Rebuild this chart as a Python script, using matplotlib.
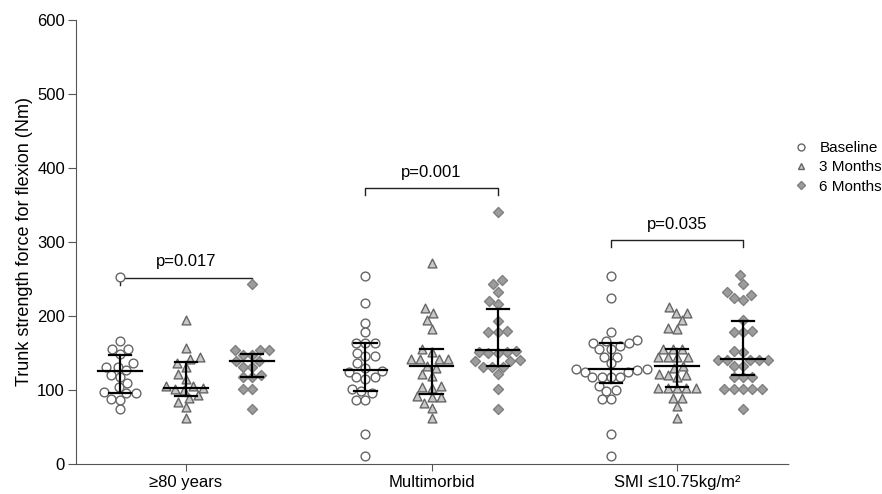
import numpy as np
import matplotlib
matplotlib.use("Agg")
import matplotlib.pyplot as plt
from matplotlib.lines import Line2D

plt.rcParams['font.family'] = ['Liberation Sans', 'DejaVu Sans']

# --- data ---
groups = ["\u226580 years", "Multimorbid", "SMI \u226410.75kg/m\u00b2"]
series = ["Baseline", "3 Months", "6 Months"]

g1_base = [253, 166, 155, 155, 148, 136, 131, 131, 127, 120, 118, 110, 104, 97, 96, 96, 88, 87, 74]
g1_3m = [194, 157, 144, 142, 136, 131, 121, 115, 105, 105, 103, 102, 100, 93, 89, 84, 77, 62]
g1_6m = [243, 154, 154, 154, 147, 147, 139, 139, 131, 131, 120, 118, 117, 102, 102, 75]

g2_base = [254, 218, 191, 178, 164, 164, 163, 150, 146, 146, 136, 130, 126, 124, 118, 117, 115,
           101, 98, 96, 87, 87, 40, 11]
g2_3m = [271, 211, 204, 194, 183, 155, 152, 142, 142, 142, 142, 133, 130, 121, 119, 106, 104, 103,
         92, 90, 90, 83, 76, 62]
g2_6m = [341, 248, 243, 232, 220, 216, 193, 180, 178, 178, 153, 152, 151, 150, 150, 140, 139, 139,
         131, 131, 131, 121, 101, 75]

g3_base = [254, 224, 178, 168, 166, 164, 163, 160, 155, 155, 145, 144, 136, 128, 128, 127, 125, 124,
           118, 118, 118, 118, 106, 100, 99, 88, 88, 40, 11]
g3_3m = [212, 204, 204, 194, 184, 183, 155, 155, 155, 144, 144, 144, 144, 133, 130, 121, 120, 120,
         118, 103, 103, 103, 103, 103, 89, 89, 78, 62]
g3_6m = [255, 243, 232, 228, 225, 221, 194, 180, 178, 178, 153, 152, 141, 141, 141, 141, 141, 132,
         132, 118, 118, 118, 102, 101, 101, 101, 101, 75]

# median, lower quartile, upper quartile per group / series
medians = [[126, 103, 139], [127, 133, 154], [129, 133, 142]]
q1 = [[96, 92, 118], [98, 95, 133], [109, 104, 120]]
q3 = [[147, 138, 148], [163, 155, 210], [163, 156, 193]]

p_labels = ["p=0.017", "p=0.001", "p=0.035"]
p_heights = [252, 373, 303]

data = [[g1_base, g1_3m, g1_6m], [g2_base, g2_3m, g2_6m], [g3_base, g3_3m, g3_6m]]

# --- styling ---
markers = ["o", "^", "D"]
faces = ["white", "#c8c8c8", "#9c9c9c"]
edges = ["#666666", "#666666", "#808080"]
msizes = [40, 40, 26]

fig = plt.figure(figsize=(8.82, 4.94), dpi=100)
ax_rect = [76 / 882, 30 / 494, 713 / 882, 444 / 494]
ax = fig.add_axes(ax_rect)

xmin, xmax = 0.552, 3.456
ax.set_xlim(xmin, xmax)
ax.set_ylim(0, 600)

# pixel scales for swarm layout
px_per_x = 713 / (xmax - xmin)
px_per_y = 444 / 600
sub_off = 0.269
diam = 9.3


def swarm_offsets(values):
    """Place points so they don't overlap (pixel space), nearest to center."""
    ys = np.asarray(values, dtype=float) * px_per_y
    order = np.argsort(ys)
    placed = []
    xs = np.zeros(len(ys))
    for i in order:
        y = ys[i]
        cands = [0.0]
        near = [(px, py) for px, py in placed if abs(py - y) < diam]
        for px, py in near:
            dx = np.sqrt(diam ** 2 - (py - y) ** 2)
            cands += [px + dx, px - dx]
        cands = sorted(cands, key=lambda c: (abs(c), c))
        for c in cands:
            if all((c - px) ** 2 + (y - py) ** 2 >= diam ** 2 - 1e-6 for px, py in near):
                xs[i] = c
                break
        placed.append((xs[i], y))
    return xs / px_per_x


for gi, grp in enumerate(data):
    center = gi + 1
    for si, vals in enumerate(grp):
        xc = center + (si - 1) * sub_off
        offs = swarm_offsets(vals)
        ax.scatter(xc + offs, vals, s=msizes[si], marker=markers[si], facecolor=faces[si],
                   edgecolor=edges[si], linewidth=1.0, zorder=3, clip_on=False)
        # median with interquartile range
        ax.plot([xc - 0.089, xc + 0.089], [medians[gi][si]] * 2, color="black", lw=1.6, zorder=4)
        ax.plot([xc, xc], [q1[gi][si], q3[gi][si]], color="black", lw=1.6, zorder=4)
        for q in (q1[gi][si], q3[gi][si]):
            ax.plot([xc - 0.045, xc + 0.045], [q, q], color="black", lw=1.6, zorder=4)
    # significance bracket between baseline and 6 months
    x0, x1 = center - sub_off, center + sub_off
    h = p_heights[gi]
    ax.plot([x0, x0, x1, x1], [h - 10, h, h, h - 10], color="#222222", lw=1.0)
    ax.text(center, h + 11, p_labels[gi], ha="center", va="bottom", fontsize=12)

ax.set_xticks([1, 2, 3])
ax.set_xticklabels(groups, fontsize=12)
ax.set_yticks(range(0, 601, 100))
ax.tick_params(axis="y", labelsize=12, length=6, width=0.8, color="#555555", pad=2)
ax.tick_params(axis="x", length=5, width=0.8, color="#555555", pad=3)
ax.set_ylabel("Trunk strength force for flexion (Nm)", fontsize=13)
ax.yaxis.set_label_coords(-0.06, 0.5)

for s in ("top", "right"):
    ax.spines[s].set_visible(False)
ax.spines["left"].set_color("#555555")
ax.spines["bottom"].set_color("#555555")
ax.spines["bottom"].set_linestyle((0, (1, 1)))

handles = [Line2D([], [], marker=markers[i], linestyle="none", markersize=5 if i < 2 else 4,
                  markerfacecolor=faces[i], markeredgecolor=edges[i]) for i in range(3)]
fig.legend(handles, series, loc="upper left", bbox_to_anchor=(795 / 882, 1 - 141 / 494),
           frameon=False, fontsize=11, handlelength=0.8, handletextpad=0.8,
           labelspacing=0.35, borderpad=0, borderaxespad=0)

fig.savefig("out.png", dpi=100)
